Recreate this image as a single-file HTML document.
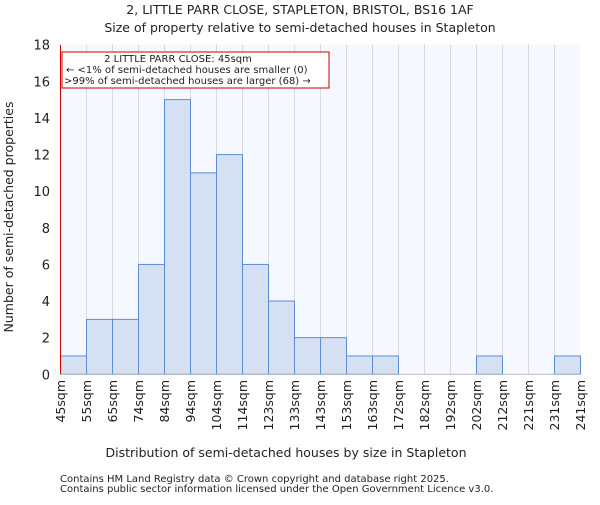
<!DOCTYPE html>
<html><head><meta charset="utf-8"><style>
body{margin:0;background:#fff}
svg text{font-family:"DejaVu Sans","Liberation Sans",sans-serif;fill:#222}
</style></head><body>
<svg id="chart" width="600" height="500" xmlns="http://www.w3.org/2000/svg">
<text x="300" y="14" text-anchor="middle" font-size="12.5">2, LITTLE PARR CLOSE, STAPLETON, BRISTOL, BS16 1AF</text>
<text x="300" y="32" text-anchor="middle" font-size="12.5">Size of property relative to semi-detached houses in Stapleton</text>
<rect x="60.5" y="44.7" width="520" height="329.6" fill="#f5f8fe"/>
<g id="grid"></g>
<g id="bars"></g>
<line x1="60.5" y1="44.7" x2="60.5" y2="374.3" stroke="#c00" stroke-width="1"/>
<line x1="60.5" y1="374.3" x2="580.5" y2="374.3" stroke="#bbb"/>
<g id="yticks"></g>
<g id="xticks"></g>
<rect x="62" y="52" width="267" height="36" fill="#fff" stroke="#c00" stroke-width="1"/>
<text x="178" y="62" text-anchor="middle" font-size="10">2 LITTLE PARR CLOSE: 45sqm</text>
<text x="66" y="73" font-size="10">← &lt;1% of semi-detached houses are smaller (0)</text>
<text x="64" y="84" font-size="10">&gt;99% of semi-detached houses are larger (68) →</text>
<text x="286" y="457" text-anchor="middle" font-size="12.5">Distribution of semi-detached houses by size in Stapleton</text>
<text transform="translate(13,217) rotate(-90)" text-anchor="middle" font-size="12.5">Number of semi-detached properties</text>
<text x="60" y="482" font-size="10" fill="#444">Contains HM Land Registry data © Crown copyright and database right 2025.</text>
<text x="60" y="492" font-size="10" fill="#444">Contains public sector information licensed under the Open Government Licence v3.0.</text>
</svg>
<script>
const edgeLabels=["45sqm","55sqm","65sqm","74sqm","84sqm","94sqm","104sqm","114sqm","123sqm","133sqm","143sqm","153sqm","163sqm","172sqm","182sqm","192sqm","202sqm","212sqm","221sqm","231sqm","241sqm"];
const counts=[1,3,3,6,15,11,12,6,4,2,2,1,1,0,0,0,1,0,0,1];
const yTicks=[0,2,4,6,8,10,12,14,16,18];
const NS="http://www.w3.org/2000/svg";
const x0=60.5,x1=580.5,yb=374.3,yt=44.7,ymax=18;
const bw=(x1-x0)/counts.length;
const X=i=>x0+i*bw;
const Y=v=>yb-(v/ymax)*(yb-yt);
function mk(t,a,p){const e=document.createElementNS(NS,t);for(const k in a)e.setAttribute(k,a[k]);p.appendChild(e);return e;}
const grid=document.getElementById('grid'),bars=document.getElementById('bars'),yt_=document.getElementById('yticks'),xt=document.getElementById('xticks');
for(let i=1;i<counts.length;i++){const l=mk('line',{x1:X(i),x2:X(i),y1:yt,y2:yb,stroke:'#dadada'},grid);

}
counts.forEach((c,i)=>{if(c<=0)return;const r=mk('rect',{x:X(i),y:Y(c),width:bw,height:yb-Y(c),fill:'#d6e0f3',stroke:'#5b8dd6','stroke-width':1},bars);

});
yTicks.forEach(v=>{const t=mk('text',{x:50,y:Y(v)+5,'text-anchor':'end','font-size':13},yt_);t.textContent=v;

});
edgeLabels.forEach((s,i)=>{const t=mk('text',{transform:`translate(${X(i)+4.5},380) rotate(-90)`,'text-anchor':'end','font-size':12.5},xt);t.textContent=s;

});
</script>
</body></html>
